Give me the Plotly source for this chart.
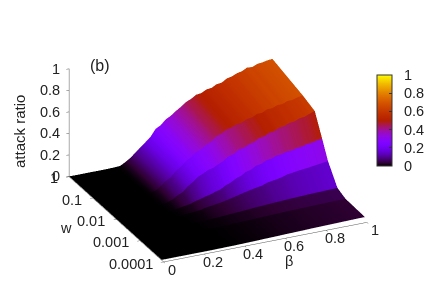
import plotly.graph_objects as go
import numpy as np

beta = [i * 0.025 for i in range(41)]
w_levels = [1.2e-4, 8e-4, 1.75e-3, 4.4e-3, 7.8e-3, 1.6e-2, 5.2e-2, 1.0]

row0 = [0,0,0,0,0,0,0,0,0,0,0,.001,.001,.002,.002,.003,.004,.005,.006,.007,.009,.01,.011,.012,.014,.015,.016,.017,.018,.02,.021,.022,.023,.024,.025,.026,.027,.028,.029,.03,.03]
row1 = [0,0,0,0,0,0,0,0,0,0,.001,.001,.002,.003,.004,.005,.005,.007,.009,.01,.012,.013,.015,.017,.019,.02,.022,.023,.025,.026,.027,.029,.03,.031,.032,.033,.034,.035,.036,.036,.037]
row2 = [0,0,0,0,0,0,0,0,0,0,.001,.002,.003,.005,.007,.009,.012,.015,.018,.021,.024,.027,.03,.034,.038,.04,.043,.046,.049,.051,.054,.056,.058,.06,.062,.064,.065,.066,.068,.069,.07]
row3 = [0,0,0,0,0,0,0,0,0,.001,.002,.003,.005,.008,.012,.018,.03,.036,.043,.05,.06,.071,.082,.094,.105,.115,.124,.132,.15,.158,.165,.175,.19,.196,.204,.21,.214,.221,.228,.234,.24]
row4 = [0,0,0,0,0,0,0,0,0,.001,.003,.006,.015,.024,.03,.048,.058,.073,.083,.10,.112,.14,.157,.185,.2,.23,.24,.268,.275,.30,.305,.325,.328,.345,.345,.36,.362,.378,.38,.395,.40]
row5 = [0,0,0,0,0,0,0,0,0,.002,.005,.012,.03,.06,.08,.125,.155,.195,.215,.24,.25,.275,.295,.33,.34,.375,.38,.405,.415,.445,.45,.475,.48,.505,.51,.53,.535,.555,.56,.58,.595]
row6 = [0,0,0,0,0,0,0,0,0,.002,.006,.02,.05,.09,.115,.165,.195,.24,.265,.305,.32,.355,.375,.415,.43,.46,.47,.49,.495,.52,.525,.55,.55,.575,.575,.595,.595,.615,.615,.63,.64]
row7 = [0,0,0,0,0,0,0,0,.001,.002,.005,.03,.06,.10,.14,.18,.22,.285,.31,.355,.38,.415,.445,.48,.50,.53,.535,.56,.565,.59,.595,.625,.635,.655,.665,.69,.685,.705,.71,.72,.725]
rows = [row0, row1, row2, row3, row4, row5, row6, row7]

NB = "\u00a0"
z_ticks = [0, .2, .4, .6, .8, 1]
z_labels = ["0", "0.2", "0.4", "0.6", "0.8", "1"]
cb_labels = [NB*2 + s for s in z_labels]
b_ticks = [0, .2, .4, .6, .8, 1]
b_labels = ["0", "0.2", "0.4", "0.6", "0.8", "1"]
w_ticks = [1, .1, .01, .001, .0001]
w_labels = ["1", "0.1", "0.01", "0.001", "0.0001"]

# gnuplot's default palette (rgbformulae 7,5,15)
stops = np.linspace(0, 1, 33)
colorscale = [[float(x), "rgb(%d,%d,%d)" % (255*x**.5, 255*x**3, 255*max(0, np.sin(2*np.pi*x)))] for x in stops]

# each band between two w levels has one colour along w, as in pm3d
ys, zs, cs = [], [], []
for i in range(len(rows) - 1):
    a, b = np.array(rows[i]), np.array(rows[i + 1])
    m = (a + b) / 2
    ys += [w_levels[i], w_levels[i + 1] * 0.999]
    zs += [a, b]
    cs += [m, m]

FONT = "Liberation Sans"
TXT = dict(family=FONT, size=14.5, color="#222")
fig = go.Figure(go.Surface(
    x=beta, y=ys, z=np.array(zs), surfacecolor=np.array(cs),
    cmin=0, cmax=1, colorscale=colorscale,
    lighting=dict(ambient=1, diffuse=0, specular=0, fresnel=0, roughness=1),
    hoverinfo="skip",
    colorbar=dict(
        x=377/436, xanchor="left", xpad=0, ypad=0,
        y=1-166/305, yanchor="bottom", lenmode="pixels", len=91,
        thicknessmode="pixels", thickness=15,
        outlinecolor="#333", outlinewidth=1, ticks="inside", ticklen=3, tickcolor="#333",
        tickvals=z_ticks, ticktext=cb_labels, tickfont=TXT,
    ),
))

# tick labels as 3D-anchored text, so that they can sit where gnuplot put them
scene_text = []
for v, s in zip(z_ticks, z_labels):
    scene_text.append(dict(x=0, y=0, z=v, text=s, xanchor="right", yanchor="middle", xshift=-7, yshift=0))
for v, s in zip(w_ticks, w_labels):
    scene_text.append(dict(x=0, y=np.log10(v), z=0, text=s, xanchor="right", yanchor="middle", xshift=-9, yshift=-2))
for v, s in zip(b_ticks, b_labels):
    scene_text.append(dict(x=v, y=-4, z=0, text=s, xanchor="center", yanchor="middle", xshift=8.5, yshift=-8))
scene_text.append(dict(x=0, y=-2, z=0, text="w", xanchor="center", yanchor="middle", xshift=-50, yshift=-9))
scene_text.append(dict(x=.6, y=-4, z=0, text="β", xanchor="center", yanchor="middle", xshift=3, yshift=-23))
for a in scene_text:
    a.update(showarrow=False, font=TXT)

axis = dict(showbackground=False, showgrid=False, zeroline=False, showspikes=False,
            showline=True, linecolor="#555", linewidth=1, ticks="inside", ticklen=3,
            tickcolor="#555", showticklabels=False, tickmode="array", title=dict(text=""))
d = 1.43
k = 1.47
fig.update_layout(
    width=436, height=305, margin=dict(l=0, r=0, t=0, b=0), paper_bgcolor="white",
    font=dict(family=FONT, size=14, color="#222"),
    scene=dict(
        domain=dict(x=[0, 1], y=[0, 1]),
        aspectmode="manual", aspectratio=dict(x=k, y=k, z=.78),
        xaxis=dict(axis, range=[0, 1], tickvals=b_ticks),
        yaxis=dict(axis, type="log", range=[-4, 0], tickvals=w_ticks),
        zaxis=dict(axis, range=[-.004, 1], tickvals=z_ticks),
        annotations=scene_text,
        camera=dict(projection=dict(type="orthographic"),
                    up=dict(x=0, y=0, z=1), center=dict(x=0, y=0, z=-.05),
                    eye=dict(x=-.388*d, y=-.835*d, z=.39*d)),
    ),
    annotations=[
        dict(text="(b)", x=100/436, y=1-65/305, xref="paper", yref="paper", xanchor="center", yanchor="middle", showarrow=False, font=dict(size=16)),
        dict(text="attack ratio", x=20/436, y=1-132/305, xref="paper", yref="paper", xanchor="center", yanchor="middle", showarrow=False, textangle=-90, font=dict(size=15)),
    ],
)
fig.write_html("out.html", post_script="document.body.style.margin='0';", config={"displayModeBar": False})
